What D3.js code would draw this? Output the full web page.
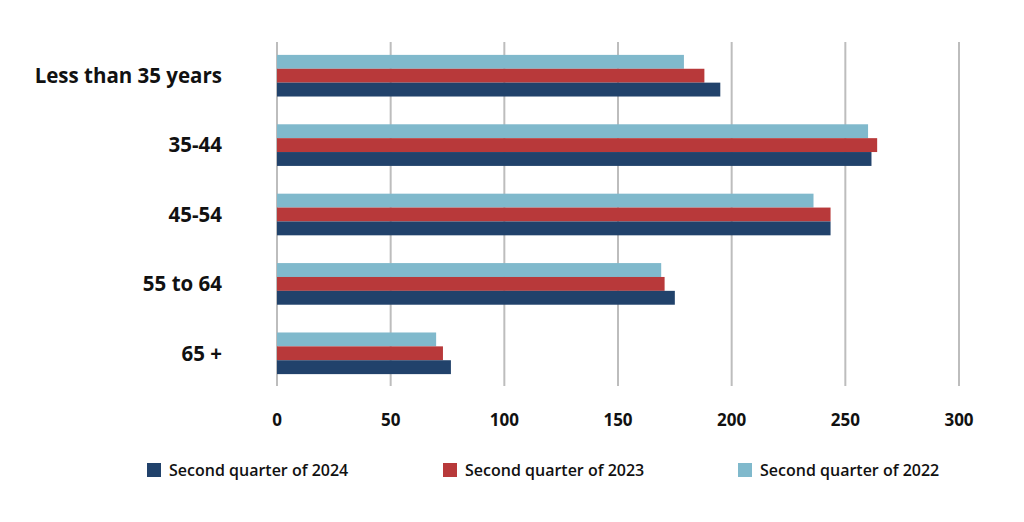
<!DOCTYPE html>
<html>
<head>
<meta charset="utf-8">
<script src="https://cdn.jsdelivr.net/npm/d3@7"></script>
<style>
  body { margin: 0; background: #fff; }
  svg { display: block; }
  text { font-family: "Open Sans", Lato, sans-serif; fill: #111; }
</style>
</head>
<body>
<div id="container"></div>
<script>
// age groups, top to bottom
var categories = ["Less than 35 years", "35-44", "45-54", "55 to 64", "65 +"];
// series, drawn light (top) -> dark (bottom) inside each group
var seriesNames = ["Second quarter of 2022", "Second quarter of 2023", "Second quarter of 2024"];
var q2022 = [179, 260, 236, 169, 70];
var q2023 = [188, 264, 243.5, 170.5, 73];
var q2024 = [195, 261.5, 243.5, 175, 76.5];
var xTicks = [0, 50, 100, 150, 200, 250, 300];
// legend order as in the picture
var legendOrder = ["Second quarter of 2024", "Second quarter of 2023", "Second quarter of 2022"];

var colors = {
  "Second quarter of 2024": "#21426b",
  "Second quarter of 2023": "#b8393a",
  "Second quarter of 2022": "#80b9cc"
};

var width = 1024, height = 522;
var seriesData = [q2022, q2023, q2024];

var svg = d3.select("#container").append("svg")
  .attr("width", width)
  .attr("height", height);

var x = d3.scaleLinear().domain([0, 300]).range([277, 959]);
var y = d3.scaleBand().domain(categories).range([41, 388]).paddingInner(0.4).paddingOuter(0.2);
var yInner = d3.scaleBand().domain(seriesNames).range([0, y.bandwidth()]);

// gridlines (incl. the zero line)
svg.append("g").selectAll("line")
  .data(xTicks)
  .enter().append("line")
  .attr("x1", d => x(d)).attr("x2", d => x(d))
  .attr("y1", 42).attr("y2", 386)
  .attr("stroke", "#bdbdbd")
  .attr("stroke-width", 2);

// bars
var groups = svg.append("g").selectAll("g")
  .data(categories)
  .enter().append("g")
  .attr("transform", d => "translate(0," + y(d) + ")");

groups.selectAll("rect")
  .data((c, i) => seriesNames.map((s, j) => ({ s: s, v: seriesData[j][i] })))
  .enter().append("rect")
  .attr("x", x(0))
  .attr("y", d => yInner(d.s))
  .attr("width", d => x(d.v) - x(0))
  .attr("height", yInner.bandwidth())
  .attr("fill", d => colors[d.s]);

// category labels
svg.append("g").selectAll("text")
  .data(categories)
  .enter().append("text")
  .attr("x", 222)
  .attr("y", d => y(d) + y.bandwidth() / 2)
  .attr("dy", "0.36em")
  .attr("text-anchor", "end")
  .style("font-size", "20.5px")
  .style("font-weight", "bold")
  .text(d => d);

// x tick labels
svg.append("g").selectAll("text")
  .data(xTicks)
  .enter().append("text")
  .attr("x", d => x(d))
  .attr("y", 420)
  .attr("dy", "0.36em")
  .attr("text-anchor", "middle")
  .style("font-size", "17px")
  .style("font-weight", "bold")
  .text(d => d);

// legend
var legendX = [147, 443, 738];
var legend = svg.append("g").selectAll("g")
  .data(legendOrder)
  .enter().append("g")
  .attr("transform", (d, i) => "translate(" + legendX[i] + ",463)");
legend.append("rect")
  .attr("width", 14).attr("height", 14)
  .attr("fill", d => colors[d]);
legend.append("text")
  .attr("x", 22).attr("y", 7)
  .attr("dy", "0.36em")
  .style("font-size", "16px")
  .style("font-weight", "600")
  .text(d => d);
</script>
</body>
</html>
